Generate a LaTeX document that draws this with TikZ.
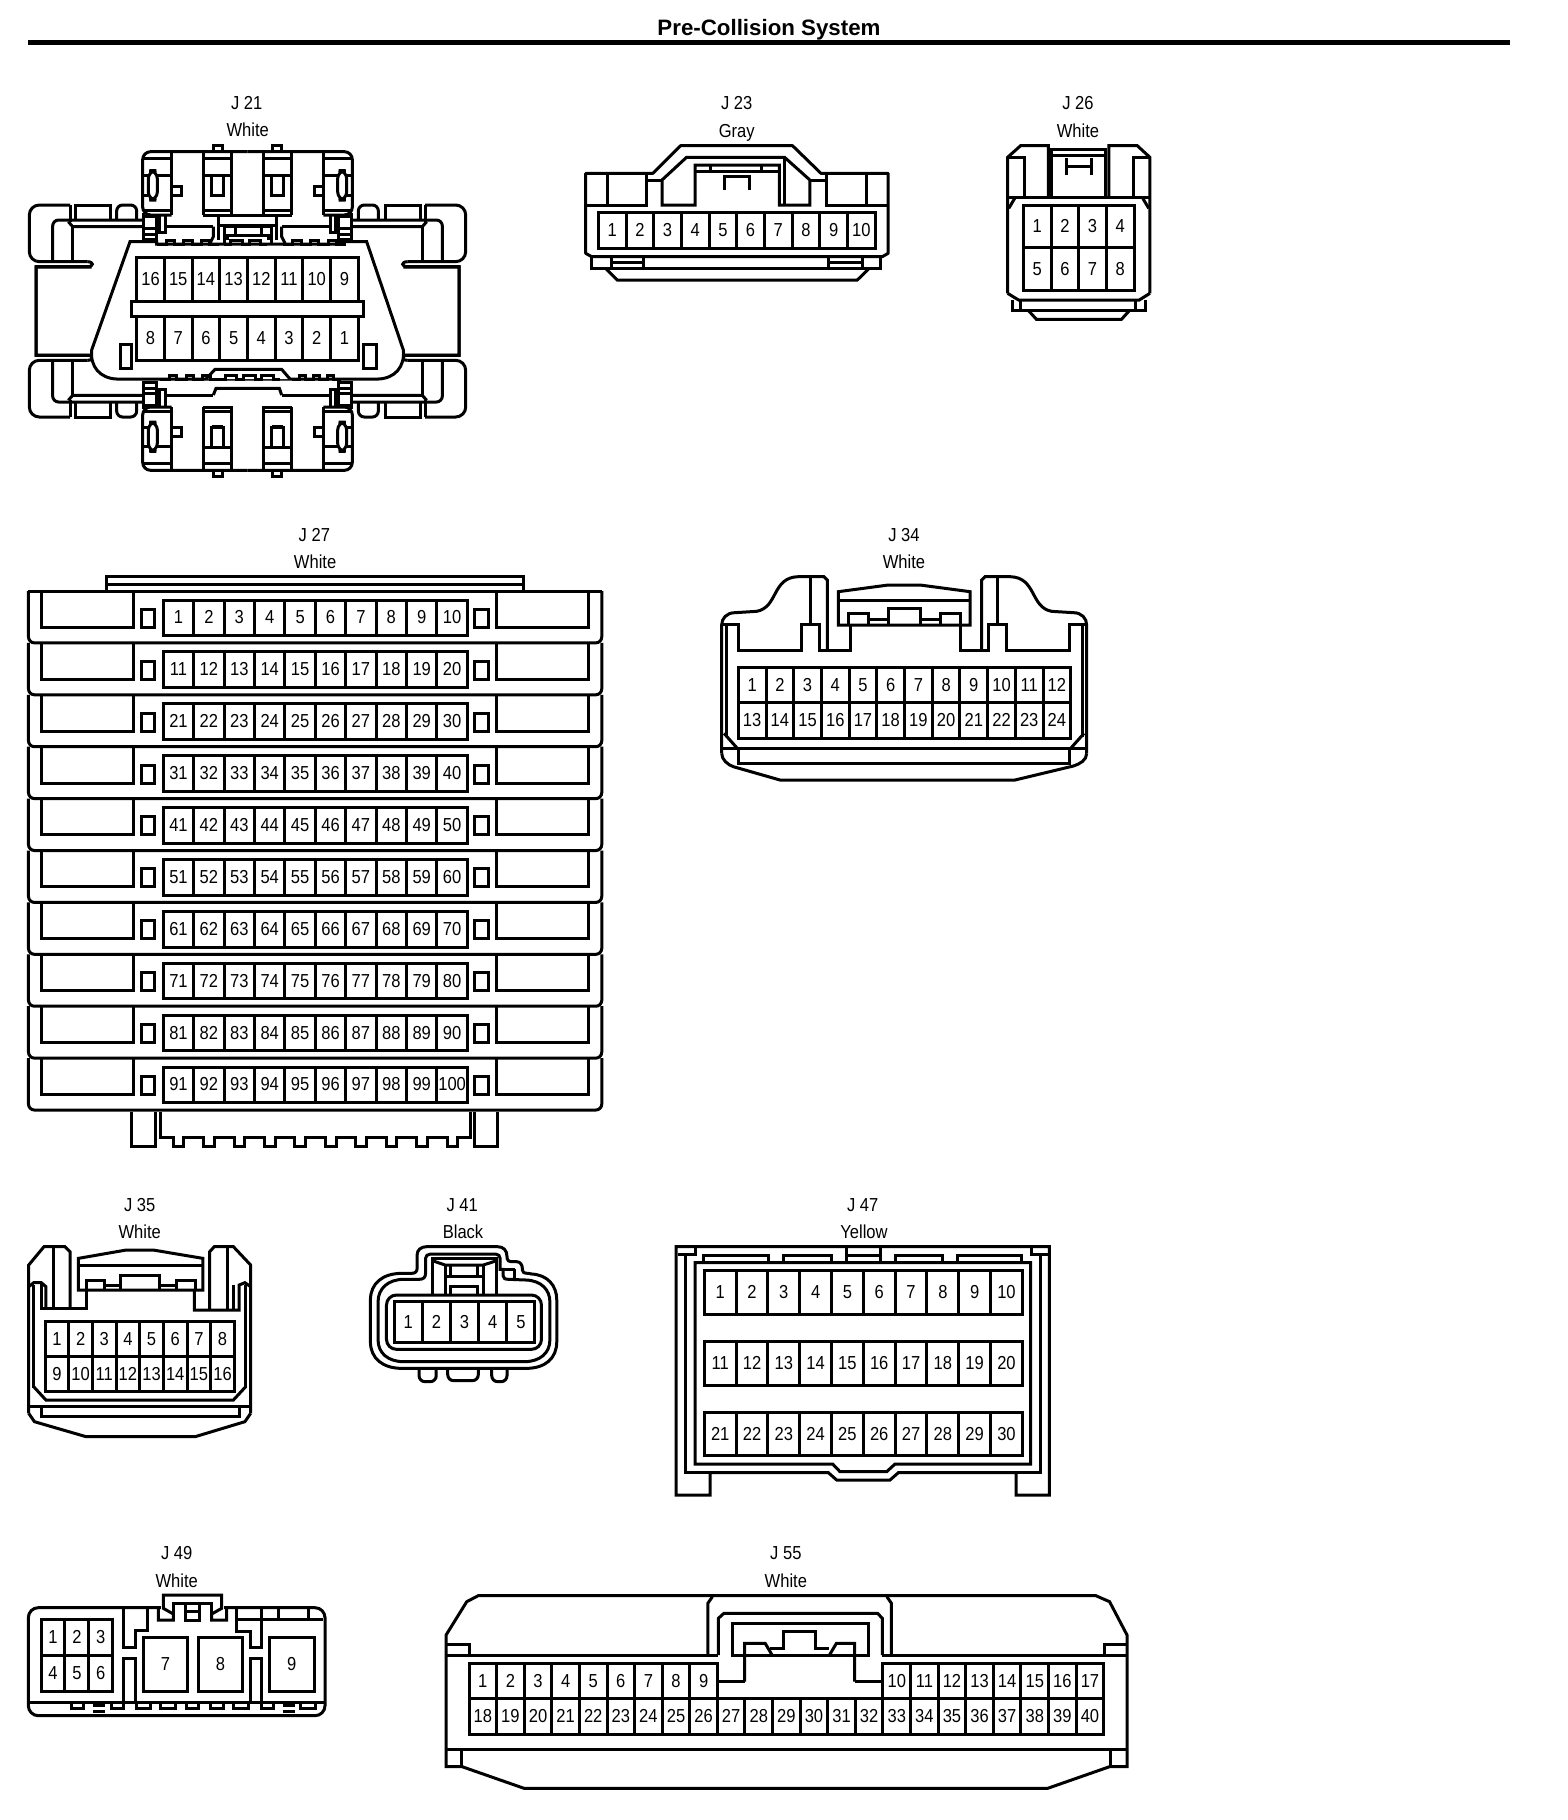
\documentclass[tikz,border=0pt]{standalone}
\usepackage{fontspec}
\setmainfont[FakeStretch=0.88]{Liberation Sans}
\newfontfamily\titlefont{Liberation Sans}
\tikzset{
  pin/.style={font=\fontsize{9.4pt}{10pt}\selectfont,inner sep=0pt,text height=6.2pt,text depth=0pt},
  lab/.style={font=\fontsize{9.4pt}{10pt}\selectfont,inner sep=0pt,text height=6.2pt,text depth=0pt},
  rc/.style={rounded corners=#1},
  rc/.default=5pt,
  zt/.style={x=0.16667pt,y=-0.16667pt},
  zw/.style={x=0.19770pt,y=-0.16667pt},
  zs/.style={x=0.19133pt,y=-0.16667pt},
  zl/.style={x=0.22959pt,y=-0.16667pt}
}
% prefix, x0, dx, y0, y1, list
\newcommand{\cells}[6]{%
  \foreach \nval [count=\cidx] in {#6} {
    \draw ({#2+(\cidx-1)*(#3)},#4) rectangle ({#2+\cidx*(#3)},#5);
    \node[pin] (#1-\nval) at ({#2+(\cidx-0.5)*(#3)},{0.5*(#4+#5)}) {\nval};
  }}
% x, y, count, gap, width, height (up)
\newcommand{\bumps}[6]{%
  \draw (#1,#2) \foreach \kk in {1,...,#3} { -- ++(#4,0) -- ++(0,-#6) -- ++(#5,0) -- ++(0,#6) } -- ++(#4,0);}
\newcommand{\jquad}{%
  \draw[rc] (210,375)--(88,375)--(88,545)--(262,545);
  \draw (262,545) .. controls (282,545) and (282,560) .. (262,560) -- (108,560)--(108,825)--(275,825);
  \draw (210,375)--(210,425);
  \draw (225,420)--(225,375)--(330,375)--(330,420);
  \draw[rc=3pt] (350,420)--(350,375)--(410,375)--(410,418);
  \draw[rc=3pt] (158,545)--(158,420)--(430,420);
  \draw (205,425)--(218,440)--(430,440);
  \draw (218,440)--(218,545);
  \draw (430,398)--(430,482);
  \draw (470,405)--(470,482);
  \foreach \yy in {410,445,462,478} {\draw (430,\yy)--(470,\yy);}
  \draw (478,408)--(478,458)--(495,458)--(495,405);
  \draw (495,440)--(640,440);
  \draw[rc=4pt] (742.5,215)--(428,215)--(428,405)--(515,405);
  \draw (515,218)--(515,405);
  \draw (428,235)--(515,235);
  \draw (428,392)--(515,392);
  \draw[rc=4pt] (445,272) rectangle (472,360);
  \draw (472,286)--(515,286);
  \draw (428,286)--(445,286);
  \draw (428,345)--(445,345);
  \draw (515,318)--(543,318)--(543,345)--(515,345);
  \draw (610,405)--(610,218);
  \draw (695,218)--(695,405)--(610,405);
  \draw (610,235)--(695,235);
  \draw (610,285)--(695,285);
  \draw (610,392)--(695,392);
  \draw (635,285)--(635,345)--(670,345)--(670,285);
  \draw (640,212)--(640,197)--(668,197)--(668,212);
}
\begin{document}
\begin{tikzpicture}[x=0.5pt,y=-0.5pt,line width=1.5pt]
\useasboundingbox (0,0) rectangle (1568,1820);
\fill[white] (0,0) rectangle (1568,1820);
\node[inner sep=0pt,text height=8pt,text depth=0pt,font=\titlefont\bfseries\fontsize{11.15pt}{12pt}\selectfont] (title) at (769,27.5) {Pre-Collision System};
\coordinate (ruleL) at (28,42.5);
\coordinate (ruleR) at (1510,42.5);
\draw[line width=2.4pt] (ruleL)--(ruleR);

%% J21
\begin{scope}[shift={(0,80)},zt]
  \node[lab] (j21a) at (740,70) {J 21};
  \node[lab] (j21b) at (743,152) {White};
  \jquad
  \begin{scope}[shift={(1485,0)},xscale=-1]\jquad\end{scope}
  \begin{scope}[shift={(0,1386)},yscale=-1]\jquad\end{scope}
  \begin{scope}[shift={(1485,1386)},xscale=-1,yscale=-1]\jquad\end{scope}
  \draw (695,405)--(790,405);
  \draw (655,405)--(655,480);
  \draw (830,405)--(830,480);
  \draw (655,435)--(830,435);
  \draw (640,440)--(640,470)--(630,490);
  \draw (845,440)--(845,470)--(855,490);
  \draw (672,490)--(672,440)--(815,440)--(815,490);
  \draw (682,480)--(682,465)--(805,465)--(805,480);
  \draw (705,440)--(705,465);
  \draw (785,440)--(785,465);
  % closed windows of the lower clips
  \draw (635,1040)--(670,1040);
  \draw (815,1040)--(850,1040);
  % body
  \draw[fill=white] (390,485)--(470,485)--(470,492)--(1010,492)--(1010,485)--(1100,485)--(1210,810)
     .. controls (1215,860) and (1185,895) .. (1135,897) -- (350,897) .. controls (300,895) and (270,860) .. (275,810) -- cycle;
  \bumps{470}{492}{3}{28}{25}{10}
  \bumps{672}{492}{2}{20}{35}{10}
  \bumps{850}{492}{3}{28}{25}{10}
  \draw[fill=white] (618,897)--(645,868)--(845,868)--(870,897);
  \bumps{480}{897}{3}{28}{22}{10}
  \bumps{655}{897}{3}{20}{35}{10}
  \bumps{875}{897}{3}{22}{20}{10}
  \draw (640,945)--(648,925)--(838,925)--(845,945);
  \draw (362,793) rectangle (395,865);
  \draw (1090,793) rectangle (1128,865);
  \cells{j21u}{410}{83.1}{532}{665}{16,15,14,13,12,11,10,9}
  \cells{j21l}{410}{83.1}{710}{840}{8,7,6,5,4,3,2,1}
  \draw[fill=white] (393,665) rectangle (1090,710);
\end{scope}

%% J23
\begin{scope}[shift={(560,80)},zw]
  \node[lab] (j23a) at (447,70) {J 23};
  \node[lab] (j23b) at (447,153) {Gray};
  \draw[line join=round] (80,530)--(65,520)--(65,280)--(235,280)--(305,197)--(588,197)--(660,280)--(830,280)--(830,520)--(815,530)--cycle;
  \draw (65,375)--(218,375)--(218,280);
  \draw (120,280)--(120,375);
  \draw (220,300)--(258,300);
  \draw (342,375)--(258,375)--(258,300)--(320,232)--(568,232)--(632,300)--(632,375)--(555,375)--(555,255)--(342,255)--cycle;
  \draw (568,232)--(568,375);
  \draw (342,275)--(555,275);
  \draw (380,255)--(380,275);
  \draw (510,255)--(510,275);
  \draw (415,330)--(415,290)--(478,290)--(478,330);
  \draw (632,300)--(675,300);
  \draw (675,280)--(675,375)--(830,375);
  \draw (775,280)--(775,375);
  \cells{j23}{97}{70}{397}{505}{1,2,3,4,5,6,7,8,9,10}
  \draw (80,530)--(80,565)--(810,565)--(810,530);
  \draw (130,530)--(130,565);
  \draw (212,530)--(212,565);
  \draw (130,548)--(212,548);
  \draw (680,530)--(680,565);
  \draw (765,530)--(765,565);
  \draw (680,548)--(765,548);
  \draw (115,565)--(145,600)--(752,600)--(782,565);
\end{scope}

%% J26
\begin{scope}[shift={(560,80)},zw]
  \node[lab] (j26a) at (1310,70) {J 26};
  \node[lab] (j26b) at (1310,153) {White};
  \draw (1132,640)--(1132,232)--(1165,197)--(1235,197)--(1235,350);
  \draw (1388,350)--(1388,197)--(1460,197)--(1492,232)--(1492,640);
  \draw (1132,232)--(1175,232)--(1175,350);
  \draw (1450,350)--(1450,232)--(1492,232);
  \draw (1243,350)--(1243,208)--(1380,208)--(1380,350);
  \draw (1243,225)--(1380,225);
  \draw (1282,285)--(1282,235);
  \draw (1343,285)--(1343,235);
  \draw (1282,258)--(1343,258);
  \draw (1132,352)--(1492,352);
  \draw (1150,355)--(1135,385);
  \draw (1474,355)--(1489,385);
  \draw (1132,640)--(1160,660)--(1465,660)--(1492,640);
  \cells{j26u}{1172}{70}{375}{503}{1,2,3,4}
  \cells{j26l}{1172}{70}{503}{632}{5,6,7,8}
  \draw (1145,660)--(1145,692)--(1480,692)--(1480,660);
  \draw (1165,660)--(1165,692);
  \draw (1455,660)--(1455,692);
  \draw (1185,692)--(1205,718)--(1420,718)--(1440,692);
\end{scope}

%% J27
\begin{scope}[shift={(0,520)},zw]
  \node[lab] (j27a) at (795,45) {J 27};
  \node[lab] (j27b) at (797,128) {White};
  \draw (270,210)--(270,170)--(1325,170)--(1325,210);
  \draw (270,192)--(1325,192);
  \draw (72,213)--(1522,213);
  \foreach \rr in {0,...,9} {
    \pgfmathsetmacro\yy{213+155.7*\rr}
    \pgfmathsetmacro\yb{\yy+155.7}
    \draw[rc=3pt] (72,\yy)--(72,\yb)--(1522,\yb)--(1522,\yy);
    \draw (105,\yy)--(105,\yy+109)--(338,\yy+109)--(338,\yy);
    \draw (1255,\yy)--(1255,\yy+109)--(1488,\yy+109)--(1488,\yy);
    \draw (358,\yy+55) rectangle (392,\yy+109);
    \draw (1200,\yy+55) rectangle (1235,\yy+109);
    \foreach \cc in {1,...,10} {
      \pgfmathtruncatemacro\nn{10*\rr+\cc}
      \draw ({413+(\cc-1)*76.9},\yy+27) rectangle ({413+\cc*76.9},\yy+134);
      \node[pin] (j27-\nn) at ({413+(\cc-0.5)*76.9},\yy+80) {\nn};
    }
  }
\end{scope}
\begin{scope}[shift={(0,1030)},zw]
  \draw (333,245)--(333,350)--(393,350)--(393,245);
  \draw (1200,245)--(1200,350)--(1258,350)--(1258,245);
  \draw (405,245)--(405,323) \foreach \kk in {0,...,9} {--({438+77*\kk},323)--({438+77*\kk},350)--({465+77*\kk},350)--({465+77*\kk},323)} --(1190,323)--(1190,245);
\end{scope}

%% J34
\begin{scope}[shift={(700,520)},zt]
  \node[lab] (j34a) at (612,45) {J 34};
  \node[lab] (j34b) at (612,128) {White};
  \draw (65,700)--(65,315) .. controls (65,295) and (80,278) .. (105,278) -- (170,274) .. controls (235,262) and (215,172) .. (295,170) -- (372,170) -- (382,180) -- (382,392);
  \draw (1160,700)--(1160,315) .. controls (1160,295) and (1145,278) .. (1120,278) -- (1055,274) .. controls (990,262) and (1010,172) .. (930,170) -- (855,170) -- (845,180) -- (845,392);
  \draw (330,170)--(330,312);
  \draw (893,170)--(893,312);
  \draw (65,312)--(115,312)--(115,392)--(305,392)--(305,312)--(358,312)--(358,392)--(450,392)--(450,315);
  \draw (1158,312)--(1108,312)--(1108,392)--(918,392)--(918,312)--(865,312)--(865,392)--(780,392)--(780,315);
  \draw (78,312)--(78,650);
  \draw (1148,312)--(1148,650);
  \draw (415,315)--(415,215)--(565,195)--(660,195)--(810,215)--(810,315)--cycle;
  \draw (415,240)--(810,240);
  \draw (445,315)--(445,280)--(505,280)--(505,315);
  \draw (565,315)--(565,265)--(660,265)--(660,315);
  \draw (720,315)--(720,280)--(780,280)--(780,315);
  \draw (505,298)--(565,298);
  \draw (660,298)--(720,298);
  \cells{j34u}{115}{83.1}{442}{548}{1,2,3,4,5,6,7,8,9,10,11,12}
  \cells{j34l}{115}{83.1}{548}{655}{13,14,15,16,17,18,19,20,21,22,23,24}
  \draw (72,640)--(112,685);
  \draw (1152,640)--(1112,685);
  \draw (65,685)--(1160,685);
  \draw (115,685)--(115,730)--(1108,730)--(1108,685);
  \draw (65,700) .. controls (65,720) and (85,735) .. (100,740) -- (240,780) -- (945,780) -- (1120,738) .. controls (1140,732) and (1160,720) .. (1160,700);
\end{scope}

%% J35
\begin{scope}[shift={(0,1190)},zs]
  \node[lab] (j35a) at (365,45) {J 35};
  \node[lab] (j35b) at (365,128) {White};
  \draw (75,670)--(75,225)--(115,170)--(170,170)--(183,185)--(183,355);
  \draw (140,172)--(140,355);
  \draw (655,670)--(655,225)--(610,170)--(560,170)--(548,185)--(548,358);
  \draw (595,172)--(595,358);
  \draw (75,290)--(88,278)--(108,278)--(120,290)--(120,355);
  \draw (108,278)--(108,355)--(225,355)--(225,300);
  \draw (205,300)--(205,205)--(330,180)--(400,180)--(530,205)--(530,300)--cycle;
  \draw (508,300)--(508,360)--(625,360)--(625,285)--(640,278)--(655,290);
  \draw (610,285)--(610,358);
  \draw (205,225)--(530,225);
  \draw (225,300)--(225,270)--(272,270)--(272,300);
  \draw (315,300)--(315,255)--(418,255)--(418,300);
  \draw (460,300)--(460,270)--(510,270)--(510,300);
  \draw (272,285)--(315,285);
  \draw (418,285)--(460,285);
  \draw (88,285)--(88,595);
  \draw (642,285)--(642,595);
  \cells{j35u}{118}{61.8}{395}{500}{1,2,3,4,5,6,7,8}
  \cells{j35l}{118}{61.8}{500}{605}{9,10,11,12,13,14,15,16}
  \draw (88,590)--(120,630)--(610,630)--(642,590);
  \draw (75,650)--(655,650);
  \draw (108,650)--(108,680)--(625,680)--(625,650);
  \draw (75,670)--(90,695)--(225,740)--(510,740)--(640,695)--(655,670);
\end{scope}

%% J41
\begin{scope}[shift={(0,1190)},zs]
  \node[lab] (j41a) at (1208,45) {J 41};
  \node[lab] (j41b) at (1210,128) {Black};
  \draw (968,330) .. controls (968,280) and (1000,250) .. (1050,250) -- (1075,250) .. controls (1085,250) and (1090,245) .. (1090,235) -- (1090,195) .. controls (1090,180) and (1100,170) .. (1115,170) -- (1300,170) .. controls (1315,170) and (1325,180) .. (1325,200) -- (1325,205) .. controls (1325,212) and (1330,215) .. (1340,215) -- (1350,215) .. controls (1360,215) and (1365,225) .. (1365,235) -- (1365,240) .. controls (1365,247) and (1370,250) .. (1380,250) -- (1390,252) .. controls (1430,255) and (1455,285) .. (1455,330) -- (1455,455) .. controls (1455,505) and (1425,535) .. (1375,535) -- (1050,535) .. controls (1000,535) and (968,505) .. (968,455) -- cycle;
  \draw (988,335) .. controls (988,295) and (1015,268) .. (1055,268) -- (1095,268) .. controls (1107,268) and (1112,262) .. (1112,250) -- (1112,205) .. controls (1112,198) and (1118,192) .. (1125,192) -- (1295,192) .. controls (1302,192) and (1307,198) .. (1307,205) -- (1307,238) -- (1315,238) -- (1315,258) .. controls (1315,265) and (1320,268) .. (1330,268) -- (1375,270) .. controls (1415,272) and (1437,300) .. (1437,335) -- (1437,450) .. controls (1437,490) and (1410,515) .. (1370,515) -- (1055,515) .. controls (1015,515) and (988,490) .. (988,450) -- cycle;
  \draw (1345,238)--(1345,268);
  \draw (1315,238)--(1345,238);
  \draw[rounded corners=5pt] (1010,315) rectangle (1415,478);
  \draw (1130,315)--(1130,205)--(1298,205)--(1298,315);
  \draw (1130,212)--(1163,225)--(1263,225)--(1298,212);
  \draw (1163,225)--(1163,315);
  \draw (1263,225)--(1263,315);
  \draw (1178,225)--(1178,260);
  \draw (1249,225)--(1249,260);
  \draw (1163,260)--(1263,260);
  \draw (1178,315)--(1178,290)--(1249,290)--(1249,315);
  \cells{j41}{1030}{73.6}{335}{458}{1,2,3,4,5}
  \draw[rc=3pt] (1095,535)--(1095,575)--(1140,575)--(1140,535);
  \draw[rc=3pt] (1170,535)--(1170,572)--(1250,572)--(1250,535);
  \draw[rc=3pt] (1285,535)--(1285,575)--(1325,575)--(1325,535);
\end{scope}

%% J47
\begin{scope}[shift={(660,1190)},zt]
  \node[lab] (j47a) at (608,45) {J 47};
  \node[lab] (j47b) at (612,128) {Yellow};
  \draw (48,915)--(48,170)--(1168,170)--(1168,915)--(1068,915)--(1068,848)--(715,848)--(690,870)--(530,870)--(505,848)--(150,848)--(150,915)--cycle;
  \draw (55,193)--(105,193)--(105,172);
  \draw (1115,172)--(1115,193)--(1165,193);
  \draw (76,193)--(76,848)--(150,848);
  \draw (1142,193)--(1142,848)--(1068,848);
  \draw (105,218)--(1112,218)--(1112,822)--(705,822)--(680,845)--(540,845)--(518,822)--(105,822)--cycle;
  \draw (130,218)--(130,197)--(325,197)--(325,218);
  \draw (370,218)--(370,197)--(515,197)--(515,218);
  \draw (560,172)--(560,218);
  \draw (660,172)--(660,218);
  \draw (560,195)--(660,195);
  \draw (705,218)--(705,197)--(848,197)--(848,218);
  \draw (892,218)--(892,197)--(1085,197)--(1085,218);
  \cells{j47a}{133}{95.4}{240}{372}{1,2,3,4,5,6,7,8,9,10}
  \cells{j47b}{133}{95.4}{455}{587}{11,12,13,14,15,16,17,18,19,20}
  \cells{j47c}{133}{95.4}{667}{797}{21,22,23,24,25,26,27,28,29,30}
\end{scope}

%% J49
\begin{scope}[shift={(0,1540)},zt]
  \node[lab] (j49a) at (530,40) {J 49};
  \node[lab] (j49b) at (530,125) {White};
  \draw[fill=white,rc=5pt] (85,203) rectangle (975,527);
  \fill[white] (482,194) rectangle (673,213);
  \draw (475,203)--(475,240)--(520,240)--(520,222)--(490,205)--(490,165)--(665,165)--(665,205)--(635,222)--(635,240)--(680,240)--(680,203);
  \draw (520,222)--(520,190)--(635,190)--(635,222);
  \draw (555,190)--(555,240)--(598,240)--(598,190);
  \draw (555,215)--(598,215);
  \cells{j49u}{123}{71.7}{238}{347}{1,2,3}
  \cells{j49l}{123}{71.7}{347}{455}{4,5,6}
  \draw (370,205)--(370,322)--(405,322)--(405,272)--(443,272)--(443,205);
  \draw (370,487)--(370,355)--(405,355)--(405,487);
  \draw (710,205)--(710,275)--(750,275)--(750,322)--(785,322)--(785,205);
  \draw (750,487)--(750,355)--(785,355)--(785,487);
  \draw (710,237)--(970,237);
  \draw (835,205)--(835,237);
  \draw (925,205)--(925,237);
  \cells{j49a7}{430}{133}{292}{455}{7}
  \cells{j49a8}{595}{133}{292}{455}{8}
  \cells{j49a9}{808}{134}{292}{455}{9}
  \draw (85,487)--(975,487);
  \foreach \xa/\xb in {215/250,335/370,410/450,480/525,560/595,630/670,700/745,785/820,900/945} {
    \draw (\xa,487)--(\xa,505)--(\xb,505)--(\xb,487);
  }
  \draw (280,497)--(315,497);
  \draw (280,514)--(315,514);
  \draw (850,497)--(885,497);
  \draw (850,514)--(885,514);
\end{scope}

%% J55
\begin{scope}[shift={(430,1540)},zl]
  \node[lab] (j55a) at (775,40) {J 55};
  \node[lab] (j55b) at (775,125) {White};
  \draw (35,285)--(80,185)--(105,167)--(1450,167)--(1480,185)--(1518,285)--(1518,680)--(1480,680)--(1345,745)--(205,745)--(70,680)--(35,680)--cycle;
  \draw (35,312)--(85,312)--(85,345);
  \draw (1518,312)--(1468,312)--(1468,345);
  \draw (35,345)--(628,345);
  \draw (985,345)--(1518,345);
  \draw (605,345)--(605,190)--(615,170);
  \draw (1005,345)--(1005,190)--(995,170);
  \draw (628,345)--(628,235)--(640,220)--(975,220)--(985,235)--(985,345);
  \draw (658,345) rectangle (955,250);
  \draw (770,330)--(770,275)--(840,275)--(840,330);
  \draw (740,325)--(770,325);
  \draw (840,325)--(870,325);
  \draw (685,425)--(685,310)--(730,310)--(745,345);
  \draw (870,345)--(885,310)--(925,310)--(925,425);
  \draw (625,425)--(685,425);
  \draw (925,425)--(985,425);
  \cells{j55a}{85}{60.1}{370}{475}{1,2,3,4,5,6,7,8,9}
  \cells{j55b}{986.5}{60.1}{370}{475}{10,11,12,13,14,15,16,17}
  \cells{j55c}{85}{60.1}{475}{583}{18,19,20,21,22,23,24,25,26,27,28,29,30,31,32,33,34,35,36,37,38,39,40}
  \draw (35,628)--(1518,628);
  \draw (68,628)--(68,680);
  \draw (1482,628)--(1482,680);
\end{scope}
\end{tikzpicture}
\end{document}
